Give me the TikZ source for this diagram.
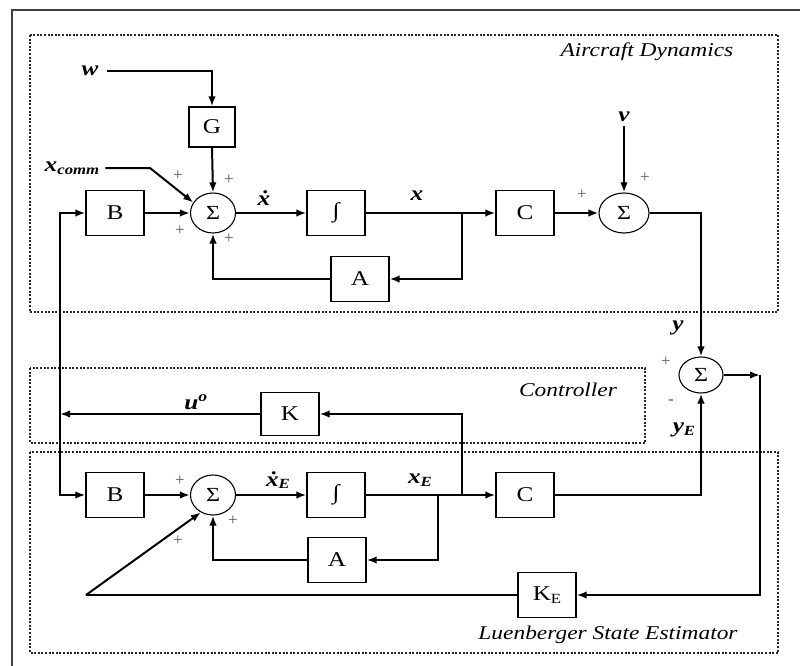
\documentclass[tikz,border=0pt]{standalone}
\usepackage{fontspec}
\setmainfont{Liberation Serif}
\newfontfamily\wf[FakeStretch=1.2]{Liberation Serif}
\usetikzlibrary{arrows.meta,shapes.geometric}
\newcommand\lowsub[1]{\raisebox{-2.5pt}{\fontsize{14}{14}\selectfont #1}}
\tikzset{
  blk/.style={draw, line width=1.3pt, minimum width=58pt, minimum height=45pt, inner sep=0pt, font=\wf\fontsize{21}{21}\selectfont},
  sumn/.style={draw, ellipse, line width=1.1pt, minimum width=45pt, minimum height=40pt, inner sep=0pt, font=\wf\fontsize{20}{20}\selectfont},
  arr/.style={line width=2pt, -{Latex[length=10pt,width=7.5pt]}},
  ln/.style={line width=2pt},
  lab/.style={inner sep=0pt, font=\wf\bfseries\itshape\fontsize{21}{21}\selectfont},
  sgn/.style={inner sep=0pt, font=\fontsize{17}{17}\selectfont, text=black!65},
  grp/.style={line width=2.2pt, dash pattern=on 2pt off 1.6pt, black!85},
  grptitle/.style={inner sep=0pt, font=\wf\itshape\fontsize{19.5}{19.5}\selectfont}
}
\begin{document}
\begin{tikzpicture}[x=1pt,y=-1pt]
\useasboundingbox (0,0) rectangle (800,666);
% outer frame
\draw[line width=2.6pt, black!75] (12,670) -- (12,10) -- (804,10);
% groups
\draw[grp] (30,35) rectangle (778,312);
\draw[grp] (30,368) rectangle (645,443);
\draw[grp] (30,452) rectangle (778,653);
\node[grptitle] (tAD) at (647,52) {Aircraft Dynamics};
\node[grptitle] (tC) at (568,390) {Controller};
\node[grptitle] (tL) at (608,635) {Luenberger State Estimator};

% top row
\node[blk, minimum width=46pt, minimum height=40pt] (G) at (212,127) {G};
\node[blk] (B1) at (115,213) {B};
\node[sumn] (S1) at (213,213) {Σ};
\node[blk] (I1) at (336,213) {∫};
\node[blk] (C1) at (525,213) {C};
\node[sumn, minimum width=50pt] (S2) at (624,213) {Σ};
\node[blk] (A1) at (360,279) {A};
\coordinate (br1) at (462,213);

% controller
\node[blk, minimum height=43pt] (K) at (290,414) {K};
\coordinate (jn) at (60,414);

% right sum
\node[sumn, minimum width=44pt, minimum height=36pt] (S3) at (701,375) {Σ};
\coordinate (rt) at (760,375);

% lower row
\node[blk] (B2) at (115,495) {B};
\node[sumn] (S4) at (213,495) {Σ};
\node[blk] (I2) at (336,495) {∫};
\node[blk] (C2) at (525,495) {C};
\node[blk] (A2) at (337,560) {A};
\node[blk] (KE) at (547,595) {K\lowsub{E}};
\coordinate (br2) at (438,495);
\coordinate (br3) at (462,495);
\coordinate (kc) at (86,595);

% labels
\node[lab] (w) at (90,71) {w};
\node[lab] (xc) at (72,168) {x\lowsub{\bfseries\itshape comm}};
\node[lab] (v) at (624,117) {v};
\node[lab] (xd) at (264,198) {ẋ};
\node[lab] (xl) at (417,196) {x};
\node[lab] (y) at (678,328) {y};
\node[lab] (yE) at (684,430) {y\lowsub{\bfseries\itshape E}};
\node[lab] (u) at (196,402) {u\textsuperscript{o}};
\node[lab] (xdE) at (278,480) {ẋ\lowsub{\bfseries\itshape E}};
\node[lab] (xE) at (420,480) {x\lowsub{\bfseries\itshape E}};

% signs
\node[sgn] (p1) at (178,176) {+};
\node[sgn] (p2) at (229,180) {+};
\node[sgn] (p3) at (180,231) {+};
\node[sgn] (p4) at (229,239) {+};
\node[sgn] (p5) at (582,195) {+};
\node[sgn] (p6) at (645,178) {+};
\node[sgn] (p7) at (666,362) {+};
\node[sgn] (m1) at (671,402) {-};
\node[sgn] (p8) at (180,481) {+};
\node[sgn] (p9) at (233,521) {+};
\node[sgn] (p10) at (178,541) {+};

% top connections
\draw[arr] (w.east) ++(8,0) -| (G.north);
\draw[arr] (G.south) -- (S1.north);
\draw[arr] (xc.east) ++(6,0) -- (150,168) -- (S1.152);
\draw[arr] (B1.east) -- (S1.west);
\draw[arr] (S1.east) -- (I1.west);
\draw[ln] (I1.east) -- (br1);
\draw[arr] (br1) -- (C1.west);
\draw[arr] (br1) |- (A1.east);
\draw[arr] (A1.west) -| (S1.south);
\draw[arr] (C1.east) -- (S2.west);
\draw[arr] (v.south) ++(0,4) -- (S2.north);
\draw[arr] (S2.east) -| (S3.north);

% controller / left bus
\draw[arr] (K.west) -- (jn);
\draw[arr] (jn) |- (B1.west);
\draw[arr] (jn) |- (B2.west);

% right sum
\draw[arr] (S3.east) -- (rt);
\draw[arr] (rt) |- (KE.east);
\draw[arr] (C2.east) -| (S3.south);

% lower connections
\draw[arr] (B2.east) -- (S4.west);
\draw[arr] (S4.east) -- (I2.west);
\draw[ln] (I2.east) -- (br3);
\draw[arr] (br3) -- (C2.west);
\draw[arr] (br2) |- (A2.east);
\draw[arr] (br3) |- (K.east);
\draw[arr] (A2.west) -| (S4.south);
\draw[ln] (KE.west) -- (kc);
\draw[arr] (kc) -- (S4.235);
\end{tikzpicture}
\end{document}
